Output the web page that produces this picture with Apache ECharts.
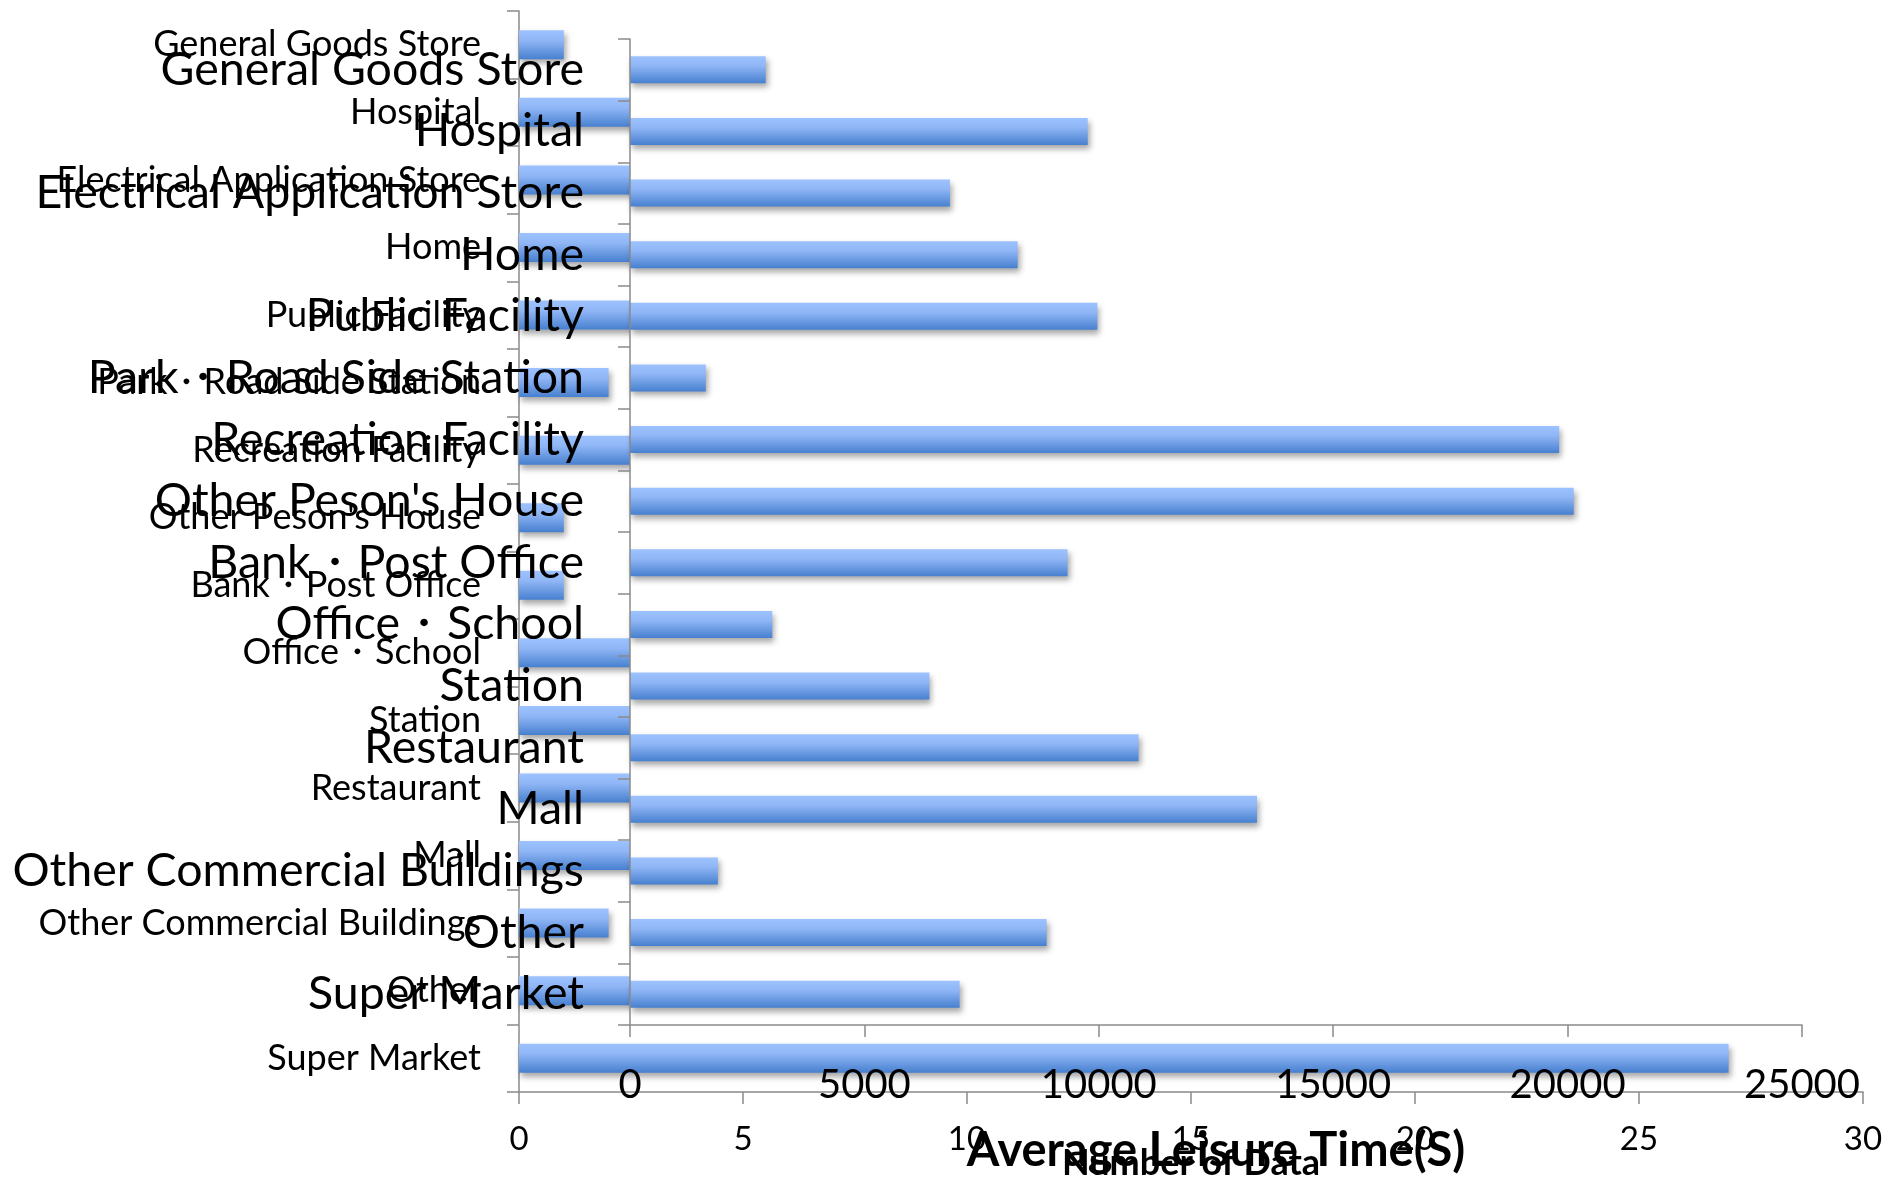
<!DOCTYPE html>
<html>
<head>
<meta charset="utf-8">
<script src="https://cdn.jsdelivr.net/npm/echarts@6/dist/echarts.min.js"></script>
<style>
  html, body { margin: 0; padding: 0; background: #ffffff; }
  #chart { width: 1895px; height: 1178px; }
</style>
</head>
<body>
<div id="chart"></div>
<script>
// Place categories, listed top to bottom
const categories = [
  'General Goods Store', 'Hospital', 'Electrical Application Store', 'Home',
  'Public Facility', 'Park・Road Side Station', 'Recreation Facility',
  "Other Peson's House", 'Bank・Post Office', 'Office・School', 'Station',
  'Restaurant', 'Mall', 'Other Commercial Buildings', 'Other', 'Super Market'
];

// Number of data per place (back panel, 0-30 axis)
const dataCount = [1, 4, 3, 4, 3, 2, 5, 1, 1, 3, 3, 4, 5, 2, 3, 27];

// Average leisure time in seconds (front panel, 0-25000 axis)
const leisureTime = [2895, 9764, 6825, 8269, 9970, 1617, 19820, 20131,
                     9334, 3035, 6387, 10847, 13374, 1875, 8888, 7031];

const countTicks = { min: 0, max: 30, interval: 5 };
const timeTicks = { min: 0, max: 25000, interval: 5000 };

const FONT = 'Lato';
const axisGray = '#8a8a8a';

const barFill = {
  type: 'linear', x: 0, y: 0, x2: 0, y2: 1,
  colorStops: [
    { offset: 0, color: '#9DC2FF' },
    { offset: 0.35, color: '#90B6F6' },
    { offset: 1, color: '#4780CF' }
  ]
};
const barStyle = {
  color: barFill,
  shadowColor: 'rgba(0,0,0,0.35)',
  shadowBlur: 6,
  shadowOffsetX: 2,
  shadowOffsetY: 4
};

// plain integers, no thousands separator
const plainNumber = v => String(v);

const chart = echarts.init(document.getElementById('chart'), null, { renderer: 'canvas' });

chart.setOption({
  backgroundColor: '#ffffff',
  animation: false,
  grid: [
    { left: 519, top: 11, width: 1344, height: 1081, containLabel: false,
      outerBoundsMode: 'none', z: 0 },
    { left: 630, top: 39, width: 1172, height: 986, containLabel: false,
      outerBoundsMode: 'none', z: 5,
      show: true, backgroundColor: '#ffffff', borderWidth: 0 }
  ],
  xAxis: [
    {
      gridIndex: 0, type: 'value',
      min: countTicks.min, max: countTicks.max, interval: countTicks.interval,
      name: 'Number of Data', nameLocation: 'middle', nameGap: 53,
      nameMoveOverlap: false,
      nameTextStyle: { fontFamily: FONT, fontSize: 36, fontWeight: 'bold', color: '#000' },
      axisLine: { show: true, lineStyle: { color: axisGray, width: 1.5 } },
      axisTick: { show: true, inside: false, length: 12, lineStyle: { color: axisGray, width: 1.5 } },
      axisLabel: { fontFamily: FONT, fontSize: 33, color: '#000', margin: 31, formatter: plainNumber },
      splitLine: { show: false }
    },
    {
      gridIndex: 1, type: 'value',
      min: timeTicks.min, max: timeTicks.max, interval: timeTicks.interval,
      name: 'Average Leisure Time(S)', nameLocation: 'middle', nameGap: 102,
      nameMoveOverlap: false,
      nameTextStyle: { fontFamily: FONT, fontSize: 47, fontWeight: 'bold', color: '#000' },
      axisLine: { show: true, lineStyle: { color: axisGray, width: 1.5 } },
      axisTick: { show: true, inside: false, length: 12, lineStyle: { color: axisGray, width: 1.5 } },
      axisLabel: { fontFamily: FONT, fontSize: 40, color: '#000', margin: 40, formatter: plainNumber },
      splitLine: { show: false },
      z: 8
    }
  ],
  yAxis: [
    {
      gridIndex: 0, type: 'category', data: categories, inverse: true,
      axisLine: { show: true, lineStyle: { color: axisGray, width: 1.5 } },
      axisTick: { show: true, length: 12, lineStyle: { color: axisGray, width: 1.5 } },
      axisLabel: { fontFamily: FONT, fontSize: 36, color: '#000', margin: 38, interval: 0 },
      splitLine: { show: false }
    },
    {
      gridIndex: 1, type: 'category', data: categories, inverse: true,
      axisLine: { show: true, lineStyle: { color: axisGray, width: 1.5 } },
      axisTick: { show: true, length: 12, lineStyle: { color: axisGray, width: 1.5 } },
      axisLabel: { fontFamily: FONT, fontSize: 46.5, color: '#000', margin: 46, interval: 0 },
      splitLine: { show: false },
      z: 8
    }
  ],
  series: [
    {
      name: 'Number of Data', type: 'bar',
      xAxisIndex: 0, yAxisIndex: 0,
      data: dataCount, barWidth: 29,
      itemStyle: barStyle, z: 2
    },
    {
      name: 'Average Leisure Time(S)', type: 'bar',
      xAxisIndex: 1, yAxisIndex: 1,
      data: leisureTime, barWidth: 27,
      itemStyle: barStyle, z: 6
    }
  ]
});
</script>
</body>
</html>
